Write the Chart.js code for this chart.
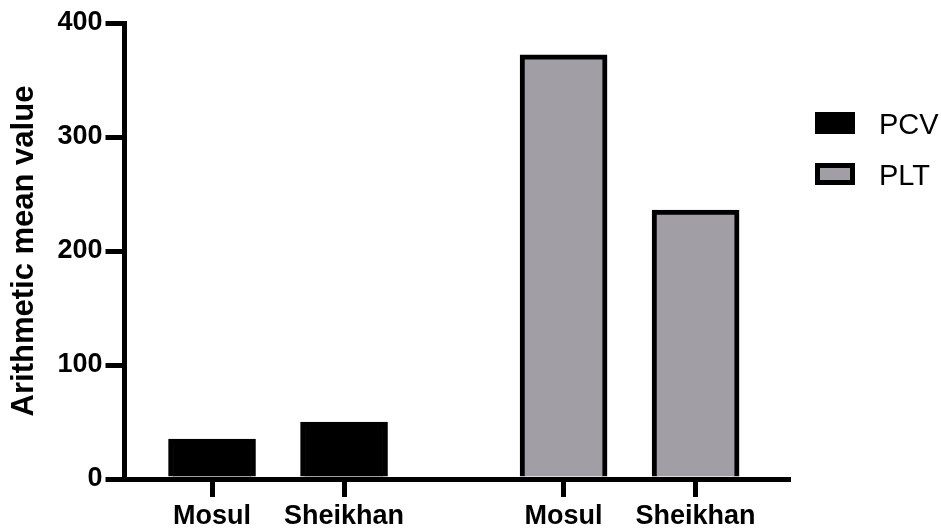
<!DOCTYPE html>
<html>
<head>
<meta charset="utf-8">
<script src="https://cdn.jsdelivr.net/npm/chart.js@4"></script>
<style>
  html, body { margin: 0; padding: 0; background: #fff; }
  canvas { display: block; }
</style>
</head>
<body>
<canvas id="chart" width="941" height="529"></canvas>
<script>
// Mean blood values for the two districts
const cities = ['Mosul', 'Sheikhan'];
const seriesNames = ['PCV', 'PLT'];
const pcvMeans = [35, 50];
const pltMeans = [372, 236];
const yTickValues = [0, 100, 200, 300, 400];
const yTitle = 'Arithmetic mean value';

// Each series is one group of bars on a linear x axis; groups are separated by a gap
const GROUP_GAP = 0.663;
const slot = (group, i) => group * (cities.length + GROUP_GAP) + i;
const xPositions = seriesNames.flatMap((_, g) => cities.map((_, i) => slot(g, i)));
const xLabels = seriesNames.flatMap(() => cities);

const FONT = "'Liberation Sans', Arial, Helvetica, sans-serif";
const GREY = '#a19fa5';
const INK = '#000';

// Legend drawn to the right of the plot: a bordered swatch followed by the series name
const sideLegend = {
  id: 'sideLegend',
  afterDraw(chart) {
    const ctx = chart.ctx;
    chart.data.datasets.forEach((ds, k) => {
      const top = 114.5 + k * 51;
      ctx.save();
      ctx.lineWidth = 5;
      ctx.fillStyle = ds.backgroundColor;
      ctx.strokeStyle = ds.borderColor;
      ctx.beginPath();
      ctx.rect(817.5, top, 35, 17);
      ctx.fill();
      ctx.stroke();
      ctx.fillStyle = INK;
      ctx.font = `29px ${FONT}`;
      ctx.textBaseline = 'alphabetic';
      ctx.fillText(ds.label, 879, top + 19.5);
      ctx.restore();
    });
  }
};

const seriesValues = [pcvMeans, pltMeans];
const seriesFill = [INK, GREY];

new Chart(document.getElementById('chart'), {
  type: 'bar',
  data: {
    datasets: seriesNames.map((name, g) => ({
      label: name,
      data: cities.map((_, i) => ({ x: slot(g, i), y: seriesValues[g][i] })),
      backgroundColor: seriesFill[g],
      borderColor: INK,
      borderWidth: 5,
      borderSkipped: 'start',
      barThickness: 87,
      grouped: false
    }))
  },
  options: {
    responsive: false,
    animation: false,
    events: [],
    layout: { padding: { top: 23, right: 153, bottom: 0, left: 0 } },
    plugins: {
      legend: { display: false },
      tooltip: { enabled: false }
    },
    scales: {
      x: {
        type: 'linear',
        offset: false,
        min: -GROUP_GAP,
        max: xPositions[xPositions.length - 1] + 0.7,
        z: 1,
        afterBuildTicks: s => { s.ticks = xPositions.map(v => ({ value: v })); },
        afterFit: s => { s.height = 50; },
        grid: { offset: false, drawOnChartArea: false, drawTicks: true, tickLength: 18, lineWidth: 5, color: INK },
        border: { display: true, width: 5, color: INK },
        ticks: {
          autoSkip: false,
          maxRotation: 0,
          color: INK,
          padding: 3,
          font: { family: FONT, size: 27, weight: 'bold' },
          callback: (v, i) => xLabels[i]
        }
      },
      y: {
        min: yTickValues[0],
        max: yTickValues[yTickValues.length - 1],
        z: 1,
        afterBuildTicks: s => { s.ticks = yTickValues.map(v => ({ value: v })); },
        afterFit: s => { s.width = 124.5; },
        grid: { drawOnChartArea: false, drawTicks: true, tickLength: 19, lineWidth: 5, color: INK },
        border: { display: true, width: 5, color: INK },
        ticks: {
          color: INK,
          padding: 3,
          font: { family: FONT, size: 27, weight: 'bold' }
        },
        title: {
          display: true,
          text: yTitle,
          color: INK,
          padding: { top: 6, bottom: 0 },
          font: { family: FONT, size: 31, weight: 'bold' }
        }
      }
    }
  },
  plugins: [sideLegend]
});
</script>
</body>
</html>
